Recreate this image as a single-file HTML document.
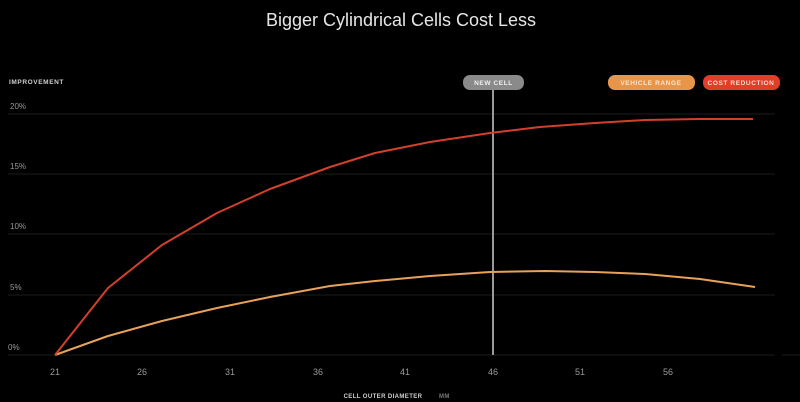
<!DOCTYPE html>
<html><head><meta charset="utf-8"><style>
html,body{margin:0;padding:0;background:#000;width:800px;height:402px;overflow:hidden}
svg{display:block}
text{font-family:"Liberation Sans",sans-serif}
</style></head><body>
<svg width="800" height="402" viewBox="0 0 800 402">
<rect width="800" height="402" fill="#000"/>
<text x="401" y="26" fill="#e6e6e6" font-size="18" text-anchor="middle">Bigger Cylindrical Cells Cost Less</text>
<text x="9" y="84" fill="#d0d0d0" font-size="6.5" font-weight="bold" letter-spacing="0.6">IMPROVEMENT</text>
<g stroke="#1c1c1c" stroke-width="1">
<line x1="8" y1="114" x2="775" y2="114"/>
<line x1="8" y1="174" x2="775" y2="174"/>
<line x1="8" y1="234" x2="775" y2="234"/>
<line x1="8" y1="295" x2="775" y2="295"/>
<line x1="8" y1="355" x2="775" y2="355"/>
<line x1="782" y1="355" x2="800" y2="355"/>
</g>
<g fill="#9a9a9a" font-size="8">
<text x="10" y="109">20%</text>
<text x="10" y="169">15%</text>
<text x="10" y="229">10%</text>
<text x="10" y="290">5%</text>
<text x="8" y="350">0%</text>
</g>
<g fill="#9a9a9a" font-size="9" text-anchor="middle">
<text x="55" y="375">21</text><text x="142" y="375">26</text><text x="230" y="375">31</text>
<text x="318" y="375">36</text><text x="405" y="375">41</text><text x="493" y="375">46</text>
<text x="580" y="375">51</text><text x="668" y="375">56</text>
</g>
<text x="383" y="398" fill="#cfcfcf" font-size="6" font-weight="bold" text-anchor="middle" letter-spacing="0.4">CELL OUTER DIAMETER</text>
<text x="439" y="398" fill="#777" font-size="6" font-weight="bold" letter-spacing="0.4">MM</text>
<line x1="493" y1="85" x2="493" y2="355" stroke="#9a9a9a" stroke-width="2"/>
<rect x="463" y="75" width="61" height="15" rx="7" fill="#8a8a8a"/>
<text x="493.5" y="85" fill="#f0f0f0" font-size="6.5" font-weight="bold" text-anchor="middle" letter-spacing="0.6">NEW CELL</text>
<rect x="608" y="75" width="87" height="15" rx="7" fill="#e8954a"/>
<text x="651" y="85" fill="#fbe6cf" font-size="6.5" font-weight="bold" text-anchor="middle" letter-spacing="0.6">VEHICLE RANGE</text>
<rect x="703" y="75" width="77" height="15" rx="7" fill="#de3f26"/>
<text x="741" y="85" fill="#fbd9cf" font-size="6.5" font-weight="bold" text-anchor="middle" letter-spacing="0.6">COST REDUCTION</text>
<polyline fill="none" stroke="#e6a15a" stroke-width="2" stroke-linejoin="round" points="55,355 108,336 162,321 217,308 270,297 330,286 375,281 430,276 490,272 545,271 595,272 645,274 700,279 755,287"/>
<polyline fill="none" stroke="#d2402b" stroke-width="2" stroke-linejoin="round" points="55,355 108,288 162,245 217,213 270,189 330,167 375,153 430,142 490,133 540,127 595,123 645,120 700,119 753,119"/>
</svg>
</body></html>
